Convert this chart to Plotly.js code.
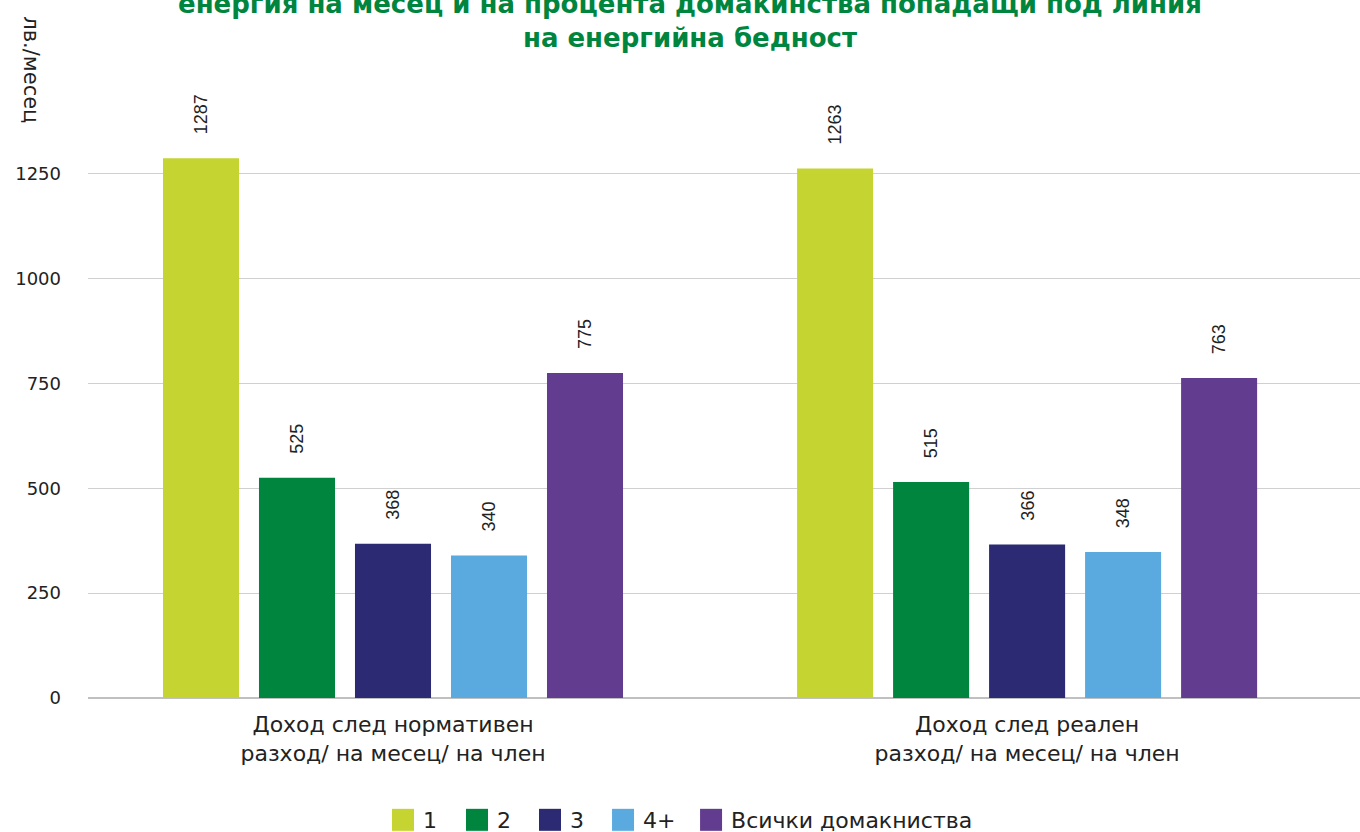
<!DOCTYPE html>
<html>
<head>
<meta charset="utf-8">
<script src="https://cdn.plot.ly/plotly-3.0.1.min.js"></script>
<style>html,body{margin:0;padding:0;background:#fff;}#chart{width:1360px;height:832px;}</style>
</head>
<body>
<div id="chart"></div>
<script>
const categories = ["Доход след нормативен<br>разход/ на месец/ на член", "Доход след реален<br>разход/ на месец/ на член"];
const seriesNames = ["1", "2", "3", "4+", "Всички домакниства"];
const values1 = [1287, 1263];
const values2 = [525, 515];
const values3 = [368, 366];
const values4 = [340, 348];
const valuesAll = [775, 763];
const colors = ["#C5D431", "#00853F", "#2B2A73", "#5AA9DF", "#623C8F"];
const yTicks = [0, 250, 500, 750, 1000, 1250];
const titleText = "енергия на месец и на процента домакинства попадащи под линия<br>на енергийна бедност";
const yTitle = "лв./месец";

const FONT = 'DejaVu Sans, sans-serif';
const allValues = [values1, values2, values3, values4, valuesAll];
const legendIds = ['legend', 'legend2', 'legend3', 'legend4', 'legend5'];
const legendX = [0.2319, 0.2901, 0.3475, 0.4049, 0.4741];
const traces = allValues.map((v, i) => ({
  type: 'bar', x: [0, 1], y: v, name: seriesNames[i], legend: legendIds[i],
  marker: {color: colors[i]}, hoverinfo: 'skip'
}));

const slot = 96; // px per bar slot
const annotations = [];
allValues.forEach((v, i) => {
  v.forEach((val, c) => {
    annotations.push({
      x: c, y: val, xref: 'x', yref: 'y', text: String(val), showarrow: false,
      textangle: -90, xanchor: 'center', yanchor: 'bottom',
      xshift: (i - 2) * slot, yshift: 22,
      font: {family: 'Liberation Sans, Arial, sans-serif', size: 18, color: '#222'}
    });
  });
});
annotations.push({
  text: titleText, xref: 'paper', yref: 'paper', x: 0.473, y: 1.058, xanchor: 'center', yanchor: 'bottom',
  showarrow: false, font: {family: FONT, size: 26, color: '#00853F', weight: 700}
});
annotations.push({
  text: yTitle, xref: 'paper', yref: 'paper', x: -0.0448, y: 1.034, xanchor: 'center', yanchor: 'middle',
  showarrow: false, textangle: 90, font: {family: FONT, size: 21, color: '#222'}
});

const layout = {
  width: 1360, height: 832,
  margin: {l: 88, r: 0, t: 90, b: 134, autoexpand: false},
  paper_bgcolor: '#fff', plot_bgcolor: '#fff',
  barmode: 'group', bargap: 0.243, bargroupgap: 0.208,
  showlegend: true,
  xaxis: {
    tickmode: 'array', tickvals: [0, 1], ticktext: categories, automargin: false,
    range: [-0.481, 1.525], showgrid: false, zeroline: false, showline: false, ticks: '',
    ticklabelstandoff: 11,
    tickfont: {family: FONT, size: 22, color: '#222'}
  },
  yaxis: {
    range: [0, 1450], tickmode: 'array', tickvals: yTicks, ticktext: yTicks.map(String), automargin: false,
    showgrid: true, gridcolor: '#d0d0d0', gridwidth: 1, zeroline: true, zerolinecolor: '#c0c0c0', zerolinewidth: 1.5,
    showline: false, ticks: '', ticklabelstandoff: 26,
    tickfont: {family: FONT, size: 18, color: '#222'}
  },
  annotations: annotations
};
legendIds.forEach((id, i) => {
  layout[id] = {orientation: 'h', x: legendX[i], xanchor: 'left', y: -0.2007, yanchor: 'middle',
    bgcolor: 'rgba(0,0,0,0)', font: {family: FONT, size: 22, color: '#222'}};
});

const gd = document.getElementById('chart');
Plotly.newPlot(gd, traces, layout, {displayModeBar: false, staticPlot: true}).then(() => {
  gd.querySelectorAll('.legendpoints path').forEach(p => p.setAttribute('d', 'M11,11H-11V-11H11Z'));
});
</script>
</body>
</html>
